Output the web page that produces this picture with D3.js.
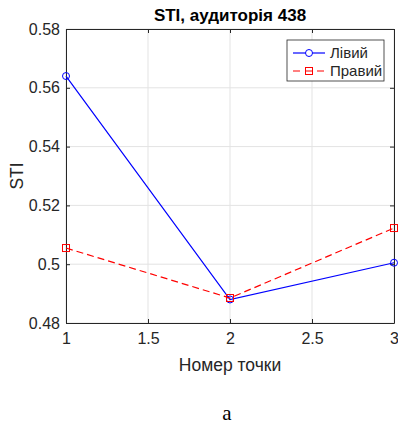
<!DOCTYPE html>
<html>
<head>
<meta charset="utf-8">
<script src="https://cdn.jsdelivr.net/npm/d3@7"></script>
<style>
  body { margin: 0; background: #fff; }
  svg { font-family: "Liberation Sans", Arial, sans-serif; }
</style>
</head>
<body>
<svg width="398" height="426"></svg>
<script>
var points = [1, 2, 3];
var leftValues = [0.564, 0.488, 0.5005];
var rightValues = [0.5055, 0.4885, 0.5123];
var xTicks = [1, 1.5, 2, 2.5, 3];
var yTicks = [0.48, 0.5, 0.52, 0.54, 0.56, 0.58];
var seriesNames = ["Лівий", "Правий"];

var svg = d3.select("svg"),
    margin = {top: 29, right: 4, bottom: 103, left: 66},
    width = +svg.attr("width") - margin.left - margin.right,
    height = +svg.attr("height") - margin.top - margin.bottom;

var x = d3.scaleLinear().domain([1, 3]).range([0, width]),
    y = d3.scaleLinear().domain([0.48, 0.58]).range([height, 0]);

var g = svg.append("g")
    .attr("transform", "translate(" + margin.left + "," + margin.top + ")");

// grid
g.selectAll(".gx").data(xTicks).enter().append("line")
    .attr("x1", function(d) { return x(d); }).attr("x2", function(d) { return x(d); })
    .attr("y1", 0).attr("y2", height)
    .attr("stroke", "#e3e3e3").attr("stroke-width", 1);
g.selectAll(".gy").data(yTicks).enter().append("line")
    .attr("y1", function(d) { return y(d); }).attr("y2", function(d) { return y(d); })
    .attr("x1", 0).attr("x2", width)
    .attr("stroke", "#e3e3e3").attr("stroke-width", 1);

var axisColor = "#262626";

var xAxis = g.append("g")
    .attr("transform", "translate(0," + height + ")")
    .call(d3.axisBottom(x).tickValues(xTicks).tickSizeInner(-4).tickSizeOuter(0).tickPadding(10).tickFormat(d3.format("")));
var yAxis = g.append("g")
    .call(d3.axisLeft(y).tickValues(yTicks).tickSizeInner(-4).tickSizeOuter(0).tickPadding(6).tickFormat(function(d) { return +d.toFixed(2); }));
var xTop = g.append("g")
    .call(d3.axisTop(x).tickValues(xTicks).tickSizeInner(-4).tickSizeOuter(0).tickFormat(""));
var yRight = g.append("g")
    .attr("transform", "translate(" + width + ",0)")
    .call(d3.axisRight(y).tickValues(yTicks).tickSizeInner(-4).tickSizeOuter(0).tickFormat(""));

[xAxis, yAxis, xTop, yRight].forEach(function(a) {
  a.selectAll("path").attr("stroke", axisColor).attr("stroke-width", 1);
  a.selectAll("line").attr("stroke", axisColor);
  a.selectAll("text").attr("fill", axisColor).style("font-size", "16px").style("font-family", "Liberation Sans, Arial, sans-serif");
});

var line = d3.line()
    .x(function(d, i) { return x(points[i]); })
    .y(function(d) { return y(d); });

g.append("path").datum(leftValues)
    .attr("fill", "none").attr("stroke", "#0000ff").attr("stroke-width", 1.2)
    .attr("d", line);
g.selectAll(".lm").data(leftValues).enter().append("circle")
    .attr("cx", function(d, i) { return x(points[i]); })
    .attr("cy", function(d) { return y(d); })
    .attr("r", 3.5).attr("fill", "none").attr("stroke", "#0000ff").attr("stroke-width", 1);

g.append("path").datum(rightValues)
    .attr("fill", "none").attr("stroke", "#ff0000").attr("stroke-width", 1.2)
    .attr("stroke-dasharray", "7,4")
    .attr("d", line);
g.selectAll(".rm").data(rightValues).enter().append("rect")
    .attr("x", function(d, i) { return x(points[i]) - 3.5; })
    .attr("y", function(d) { return y(d) - 3.5; })
    .attr("width", 7).attr("height", 7)
    .attr("fill", "none").attr("stroke", "#ff0000").attr("stroke-width", 1);

// legend
var lg = g.append("g").attr("transform", "translate(221,11)");
lg.append("rect").attr("width", 97).attr("height", 41)
    .attr("fill", "#fff").attr("stroke", axisColor).attr("stroke-width", 0.8);
lg.append("line").attr("x1", 6).attr("x2", 38).attr("y1", 13).attr("y2", 13)
    .attr("stroke", "#0000ff").attr("stroke-width", 1.2);
lg.append("circle").attr("cx", 22).attr("cy", 13).attr("r", 3.5)
    .attr("fill", "#fff").attr("stroke", "#0000ff");
lg.append("line").attr("x1", 6).attr("x2", 38).attr("y1", 31).attr("y2", 31)
    .attr("stroke", "#ff0000").attr("stroke-width", 1.2).attr("stroke-dasharray", "7,5");
lg.append("rect").attr("x", 18.5).attr("y", 27.5).attr("width", 7).attr("height", 7)
    .attr("fill", "none").attr("stroke", "#ff0000");
lg.selectAll(".lt").data(seriesNames).enter().append("text")
    .attr("x", 43).attr("y", function(d, i) { return 13 + i * 18; })
    .attr("dy", "0.35em").attr("fill", axisColor).style("font-size", "15px")
    .text(function(d) { return d; });

// titles
svg.append("text").attr("x", margin.left + width / 2).attr("y", 21)
    .attr("text-anchor", "middle").attr("font-weight", "bold").attr("fill", "#000")
    .style("font-size", "17px").text("STI, аудиторія 438");
svg.append("text").attr("x", margin.left + width / 2).attr("y", 371)
    .attr("text-anchor", "middle").attr("fill", axisColor)
    .style("font-size", "17.5px").text("Номер точки");
svg.append("text").attr("transform", "translate(23," + (margin.top + height / 2) + ") rotate(-90)")
    .attr("text-anchor", "middle").attr("fill", axisColor)
    .style("font-size", "17.5px").text("STI");
svg.append("text").attr("x", 227).attr("y", 420)
    .attr("text-anchor", "middle").attr("fill", "#000")
    .style("font-family", "Liberation Serif, Times New Roman, serif")
    .style("font-size", "21px").text("а");
</script>
</body>
</html>
